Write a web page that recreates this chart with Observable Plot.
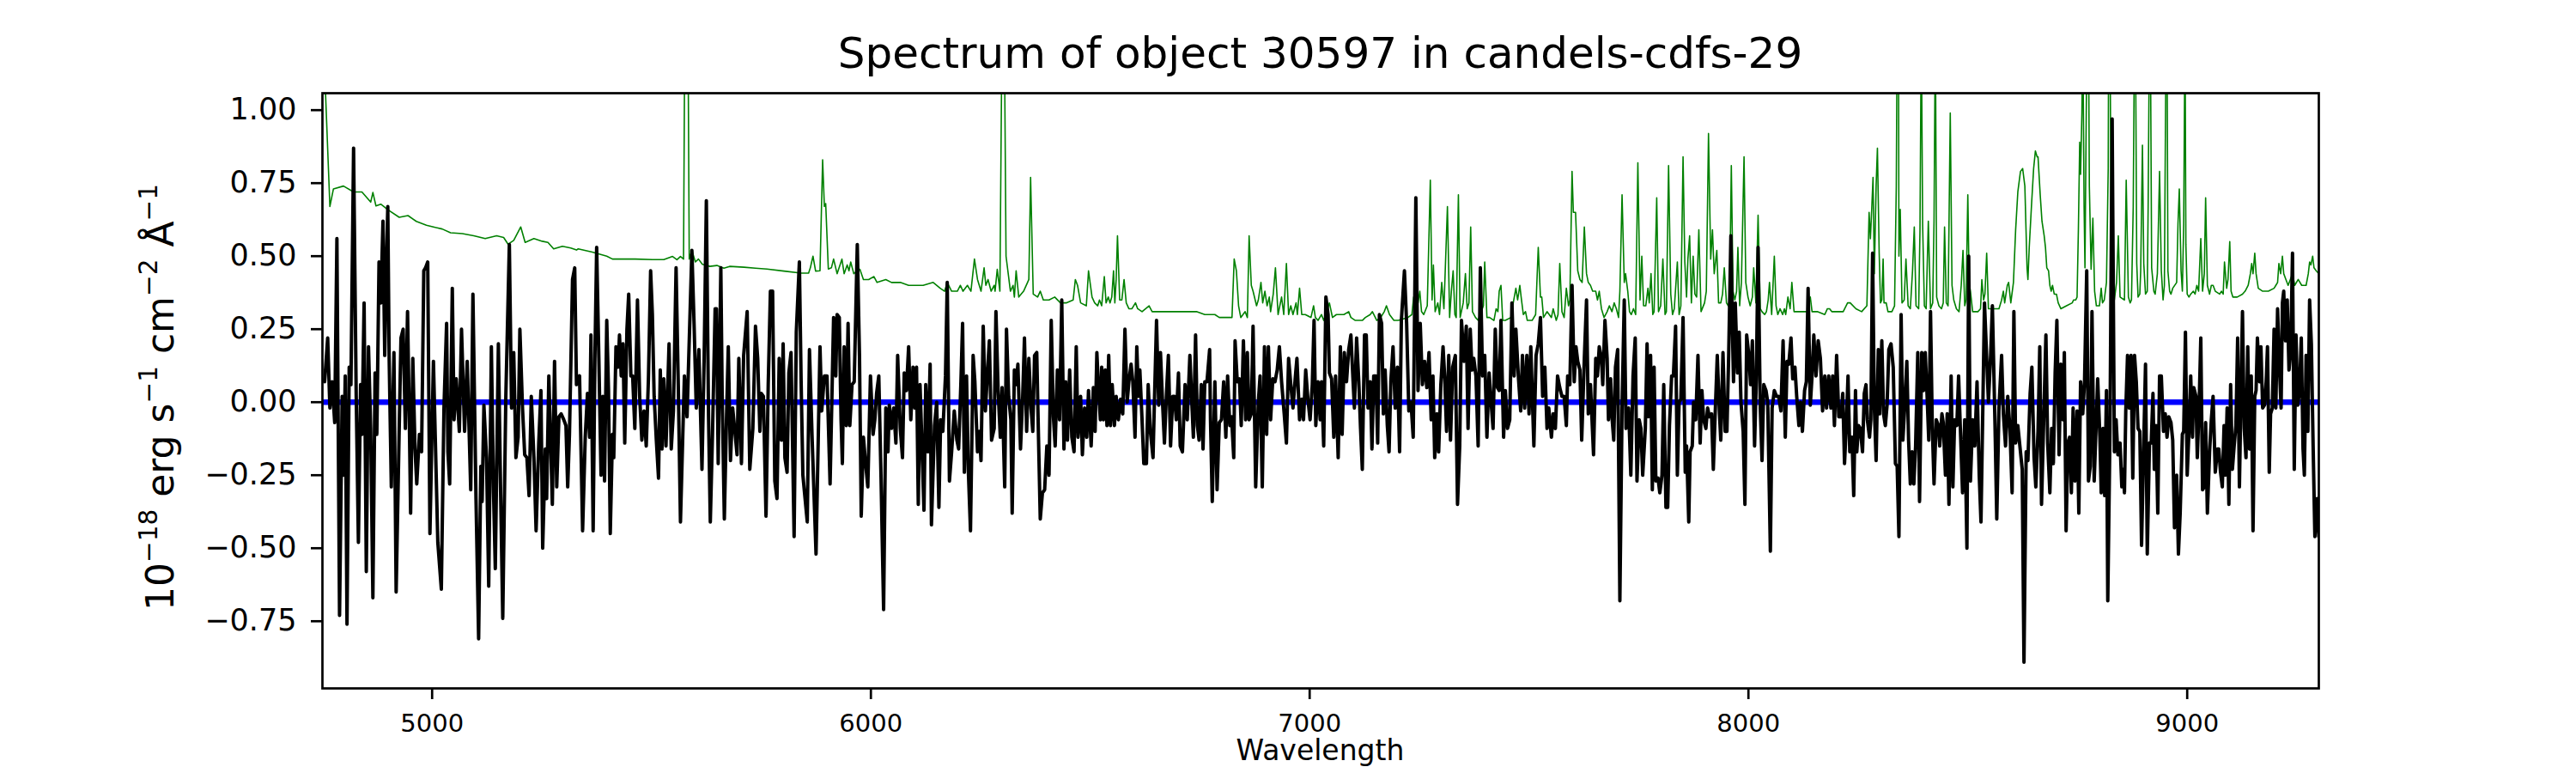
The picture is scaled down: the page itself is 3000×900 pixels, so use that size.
<!DOCTYPE html>
<html>
<head>
<meta charset="utf-8">
<script src="https://cdn.jsdelivr.net/npm/d3@7"></script>
<script src="https://cdn.jsdelivr.net/npm/@observablehq/plot@0.6"></script>
<style>
  html, body { margin: 0; padding: 0; background: #ffffff; }
  #chart { width: 3000px; height: 900px; }
</style>
</head>
<body>
<div id="chart"></div>
<script>
// ---------- texts & ticks ----------
const titleText = "Spectrum of object 30597 in candels-cdfs-29";
const xLabelText = "Wavelength";
const yLabelParts = [["10", false], ["−18", true], [" erg s", false], ["−1", true], [" cm", false], ["−2", true], [" Å", false], ["−1", true]];
const xTicks = [5000, 6000, 7000, 8000, 9000];
const yTicks = [-0.75, -0.5, -0.25, 0, 0.25, 0.5, 0.75, 1.0];
const xDomain = [4750, 9300];
const yDomain = [-0.98, 1.058];

// ---------- zero level (blue) ----------
const zeroLevel = [0];

// ---------- observed spectrum (black): [wavelength, flux] ----------
const spectrum = [
[4755,0.07],[4762,0.22],[4767,-0.02],[4772,0.07],[4778,-0.07],[4783,0.56],[4789,-0.73],[4795,0.02],[4798,-0.25],[4802,0.09],[4806,-0.76],[4811,0.12],[4815,0.06],[4821,0.87],[4827,0.02],[4832,-0.48],[4837,0.06],[4840,-0.11],[4845,0.34],[4850,-0.58],[4855,0.19],[4860,-0.09],[4865,-0.67],[4870,0.10],[4874,-0.11],[4879,0.48],[4883,0.34],[4888,0.62],[4892,0.16],[4896,0.49],[4899,0.67],[4902,0.16],[4907,-0.29],[4913,0.17],[4918,-0.65],[4925,-0.09],[4929,0.22],[4934,0.25],[4939,-0.09],[4944,0.31],[4948,-0.06],[4951,-0.38],[4956,0.15],[4961,-0.16],[4965,-0.28],[4971,-0.11],[4976,-0.17],[4981,0.45],[4985,0.46],[4990,0.48],[4995,-0.45],[5003,0.14],[5013,-0.48],[5021,-0.64],[5027,-0.02],[5033,0.27],[5036,-0.17],[5040,-0.28],[5046,0.39],[5050,-0.06],[5055,0.08],[5062,-0.10],[5067,0.25],[5074,-0.10],[5080,0.14],[5088,-0.30],[5093,0.37],[5100,-0.33],[5106,-0.81],[5111,-0.22],[5114,-0.34],[5118,-0.01],[5124,-0.19],[5129,-0.63],[5135,0.19],[5140,-0.31],[5144,-0.57],[5151,0.20],[5156,-0.30],[5161,-0.74],[5168,0.02],[5176,0.54],[5181,-0.02],[5186,0.17],[5191,-0.19],[5196,-0.12],[5200,0.25],[5206,-0.02],[5211,-0.18],[5216,-0.19],[5221,-0.32],[5226,0.02],[5232,-0.19],[5237,-0.44],[5243,-0.14],[5248,0.04],[5252,-0.50],[5258,-0.16],[5261,-0.33],[5266,0.09],[5274,-0.35],[5279,0.14],[5284,-0.29],[5289,-0.05],[5294,-0.04],[5300,-0.06],[5305,-0.08],[5309,-0.29],[5313,-0.11],[5320,0.42],[5325,0.46],[5329,0.06],[5336,0.09],
[5343,-0.44],[5349,-0.12],[5354,0.03],[5359,-0.12],[5362,0.23],[5367,-0.44],[5371,0.15],[5375,0.53],[5380,0.15],[5385,-0.25],[5389,0.02],[5393,-0.27],[5398,0.28],[5402,0.04],[5406,-0.45],[5411,-0.11],[5414,-0.19],[5419,0.19],[5424,0.12],[5427,0.23],[5431,0.09],[5435,0.20],[5439,-0.14],[5444,0.25],[5448,0.37],[5453,0.09],[5457,0.09],[5462,-0.09],[5468,0.35],[5473,0.02],[5478,-0.13],[5483,-0.03],[5488,-0.15],[5493,0.08],[5498,0.45],[5502,0.30],[5506,0.02],[5511,-0.13],[5516,-0.26],[5520,0.11],[5524,-0.16],[5528,0.08],[5533,-0.15],[5540,0.20],[5545,-0.16],[5550,-0.03],[5556,0.46],[5561,0.06],[5566,-0.41],[5571,-0.13],[5575,0.09],[5581,-0.05],[5586,0.21],[5592,0.52],[5597,0.27],[5602,-0.02],[5608,0.18],[5615,-0.23],[5620,0.15],[5625,0.69],[5630,-0.05],[5634,-0.41],[5639,-0.11],[5645,0.32],[5648,0.32],[5652,-0.21],[5658,0.46],[5661,0.03],[5666,-0.40],[5671,-0.05],[5675,0.19],[5680,-0.20],[5685,-0.02],[5690,-0.10],[5695,-0.18],[5699,0.15],[5705,-0.21],[5710,0.16],[5718,0.31],[5724,-0.23],[5731,-0.09],[5737,0.26],[5742,0.15],[5747,-0.10],[5750,0.03],[5755,0.02],[5761,-0.39],[5766,0.06],[5771,0.38],[5776,0.38],[5781,-0.27],[5786,-0.33],[5791,0.15],[5796,-0.13],[5800,0.20],[5804,-0.19],[5809,-0.24],[5813,0.10],[5818,0.17],[5825,-0.46],[5830,0.24],[5837,0.48],[5841,0.07],[5845,-0.25],[5855,-0.41],[5860,0.18],[5866,-0.12],[5875,-0.52],[5884,0.19],[5888,-0.03],[5894,0.09],[5900,0.09],[5907,-0.28],
[5915,0.29],[5920,0.09],[5923,0.30],[5928,0.29],[5932,-0.06],[5935,-0.21],[5939,0.19],[5944,-0.08],[5948,0.27],[5952,-0.08],[5957,0.06],[5962,0.07],[5969,0.54],[5974,0.16],[5978,-0.39],[5983,-0.12],[5988,-0.21],[5993,-0.29],[5999,0.09],[6005,-0.11],[6009,-0.06],[6013,0.03],[6018,0.09],[6023,-0.25],[6029,-0.71],[6034,-0.02],[6039,-0.17],[6042,-0.01],[6047,-0.09],[6052,-0.02],[6057,-0.14],[6061,0.16],[6067,-0.09],[6072,-0.19],[6076,0.10],[6081,0.04],[6086,0.19],[6091,-0.06],[6096,0.12],[6100,-0.02],[6104,0.12],[6108,-0.35],[6112,0.06],[6116,-0.13],[6121,-0.37],[6125,0.06],[6130,-0.17],[6135,0.13],[6138,-0.42],[6145,-0.08],[6150,0.00],[6155,-0.36],[6159,-0.06],[6164,-0.10],[6170,0.09],[6174,0.41],[6179,-0.27],[6184,-0.17],[6190,-0.03],[6196,-0.13],[6200,-0.16],[6205,0.06],[6209,0.27],[6213,-0.24],[6218,0.09],[6222,-0.23],[6227,-0.44],[6233,0.16],[6237,0.07],[6243,-0.17],[6247,-0.10],[6251,-0.20],[6256,0.26],[6261,-0.03],[6266,0.11],[6270,0.21],[6275,-0.13],[6281,-0.09],[6285,0.31],[6290,0.04],[6295,-0.12],[6299,0.05],[6305,-0.29],[6309,0.25],[6314,0.02],[6319,-0.06],[6322,-0.38],[6327,0.11],[6331,0.06],[6335,0.13],[6341,-0.16],[6346,0.02],[6350,0.22],[6355,-0.10],[6360,0.15],[6365,-0.02],[6369,-0.10],[6373,0.16],[6378,0.17],[6382,-0.12],[6386,-0.40],[6391,-0.31],[6396,-0.30],[6401,-0.15],[6406,-0.25],[6411,0.28],[6416,-0.05],[6420,-0.15],[6425,0.11],[6430,-0.06],[6435,0.35],[6440,-0.16],[6444,0.07],[6448,-0.13],[6453,0.11],[6458,-0.12],[6463,-0.17],[6468,0.19],[6472,-0.12],[6478,0.02],[6482,-0.18],[6487,-0.02],[6492,-0.12],[6496,0.04],
[6502,-0.15],[6507,0.05],[6511,-0.10],[6515,0.17],[6519,0.04],[6523,-0.06],[6526,0.12],[6530,-0.06],[6534,0.11],[6538,-0.08],[6542,0.16],[6546,-0.08],[6550,0.06],[6555,-0.08],[6559,0.02],[6564,-0.06],[6569,0.01],[6574,-0.04],[6579,0.25],[6584,0.00],[6588,0.07],[6593,0.13],[6597,0.07],[6602,-0.12],[6606,0.19],[6610,0.02],[6613,0.11],[6618,-0.06],[6622,-0.21],[6628,-0.21],[6632,0.06],[6637,-0.10],[6643,-0.19],[6646,-0.01],[6651,0.28],[6656,-0.01],[6660,0.17],[6665,-0.01],[6669,-0.14],[6674,0.04],[6678,0.16],[6683,-0.15],[6688,0.02],[6692,0.02],[6696,-0.06],[6701,0.10],[6705,-0.15],[6710,-0.17],[6716,0.06],[6721,-0.06],[6727,0.16],[6732,-0.02],[6735,-0.12],[6740,0.23],[6744,-0.08],[6748,-0.13],[6753,0.06],[6757,-0.16],[6761,0.07],[6766,0.07],[6772,0.18],[6774,-0.06],[6778,-0.34],[6784,0.07],[6789,-0.30],[6794,-0.07],[6799,-0.06],[6804,0.07],[6809,-0.12],[6813,0.09],[6818,-0.08],[6822,-0.05],[6827,-0.19],[6830,0.21],[6835,0.07],[6840,0.08],[6844,-0.08],[6849,0.21],[6854,-0.06],[6858,0.17],[6862,-0.06],[6867,-0.04],[6871,0.26],[6877,-0.29],[6883,0.00],[6887,0.09],[6892,-0.29],[6897,0.19],[6902,-0.11],[6906,0.19],[6911,-0.06],[6916,0.08],[6921,0.07],[6926,0.11],[6931,0.19],[6936,0.07],[6942,-0.04],[6947,-0.14],[6952,0.15],[6957,0.06],[6962,-0.02],[6967,0.08],[6971,0.15],[6977,-0.06],[6982,0.01],[6986,-0.06],[6991,0.11],[6996,0.01],[7001,-0.06],[7006,0.06],[7010,0.28],[7014,-0.08],[7019,0.07],[7024,-0.06],[7027,0.07],[7032,-0.15],[7037,0.36],[7042,0.30],[7045,0.10],[7050,0.08],[7055,-0.12],[7059,0.09],
[7065,-0.19],[7070,0.19],[7074,-0.11],[7079,0.17],[7084,0.07],[7089,0.18],[7094,0.23],[7099,0.07],[7102,-0.02],[7107,0.22],[7112,0.07],[7116,-0.09],[7120,-0.23],[7125,0.23],[7129,0.23],[7133,-0.02],[7138,0.07],[7142,-0.16],[7146,0.09],[7151,0.09],[7155,-0.14],[7159,0.30],[7164,0.27],[7168,-0.04],[7172,0.11],[7177,-0.08],[7181,-0.17],[7185,0.07],[7190,0.19],[7195,-0.02],[7200,0.12],[7205,-0.17],[7209,0.28],[7216,0.45],[7221,0.27],[7226,-0.03],[7231,0.00],[7236,-0.12],[7242,0.70],[7247,0.04],[7252,0.27],[7257,0.06],[7262,0.14],[7267,0.05],[7272,0.17],[7277,-0.06],[7281,0.09],[7285,-0.19],[7290,-0.04],[7294,-0.17],[7299,0.06],[7304,0.19],[7308,0.08],[7312,-0.10],[7317,0.16],[7321,-0.13],[7326,0.12],[7332,0.16],[7337,-0.35],[7342,-0.15],[7346,0.28],[7352,0.14],[7357,0.26],[7361,-0.09],[7366,0.25],[7370,0.11],[7374,0.15],[7379,0.09],[7384,-0.15],[7389,0.46],[7394,0.09],[7399,0.16],[7404,-0.12],[7409,0.10],[7414,-0.01],[7418,-0.09],[7423,0.25],[7428,0.05],[7432,0.04],[7436,0.28],[7442,-0.12],[7446,0.04],[7451,-0.09],[7456,-0.06],[7461,0.34],[7466,0.09],[7470,0.25],[7476,0.08],[7481,-0.03],[7485,0.16],[7490,-0.02],[7495,0.16],[7500,-0.04],[7504,0.19],[7511,-0.15],[7516,0.16],[7521,0.20],[7526,0.29],[7531,0.02],[7536,0.12],[7541,-0.09],[7545,-0.02],[7551,-0.12],[7555,-0.04],[7560,-0.09],[7565,0.09],[7570,0.05],[7575,0.02],[7580,0.02],[7585,-0.08],[7588,0.09],[7593,0.06],[7598,0.40],[7603,0.07],[7607,0.19],[7611,0.14],[7616,0.11],[7620,-0.13],[7626,0.15],[7631,0.35],[7635,-0.04],[7640,0.06],
[7647,-0.18],[7652,0.15],[7656,0.09],[7660,0.19],[7665,0.15],[7668,0.06],[7673,0.28],[7678,0.15],[7681,-0.06],[7686,0.08],[7689,-0.05],[7693,-0.13],[7697,0.12],[7702,0.18],[7707,-0.68],[7712,-0.02],[7717,0.35],[7721,-0.09],[7727,-0.02],[7732,-0.25],[7737,0.09],[7742,0.22],[7746,-0.27],[7751,-0.06],[7755,-0.09],[7759,-0.25],[7765,-0.09],[7769,0.20],[7772,-0.05],[7777,0.16],[7781,-0.30],[7785,0.12],[7789,-0.27],[7794,-0.26],[7798,-0.31],[7803,-0.25],[7807,0.06],[7812,-0.36],[7816,-0.36],[7820,-0.08],[7825,0.09],[7829,0.09],[7834,0.26],[7838,-0.25],[7842,0.00],[7846,0.01],[7851,0.29],[7856,-0.24],[7859,-0.15],[7864,-0.41],[7867,-0.17],[7872,-0.15],[7875,0.00],[7880,-0.06],[7885,0.16],[7890,-0.14],[7894,0.04],[7898,-0.06],[7903,-0.09],[7907,-0.02],[7911,-0.05],[7916,-0.04],[7920,-0.23],[7924,-0.05],[7929,0.16],[7934,-0.04],[7937,-0.13],[7942,0.17],[7947,-0.10],[7951,-0.10],[7955,0.16],[7960,0.57],[7963,0.29],[7966,0.07],[7970,0.34],[7975,0.10],[7979,0.24],[7983,0.00],[7988,-0.10],[7992,-0.35],[7996,0.23],[8001,0.16],[8005,0.06],[8009,0.21],[8014,-0.15],[8018,0.08],[8022,0.53],[8027,-0.02],[8031,-0.20],[8035,0.06],[8040,0.04],[8044,0.00],[8050,-0.51],[8054,-0.02],[8059,0.04],[8064,0.02],[8069,0.02],[8074,-0.03],[8079,0.21],[8084,-0.12],[8088,0.14],[8092,0.13],[8097,0.22],[8101,0.08],[8106,0.12],[8110,0.02],[8115,-0.08],[8119,0.00],[8123,-0.10],[8128,0.04],[8132,0.07],[8136,0.39],[8141,-0.01],[8145,0.09],[8149,0.23],[8154,0.09],[8159,0.21],[8164,0.15],[8169,-0.03],[8174,0.09],[8178,-0.02],[8183,0.09],[8188,-0.02],[8192,0.09],[8196,-0.08],[8201,0.16],[8206,-0.05],[8211,-0.05],[8215,0.03],
[8219,-0.21],[8223,-0.08],[8227,0.09],[8231,-0.17],[8236,-0.12],[8240,-0.32],[8244,0.04],[8247,-0.17],[8251,-0.08],[8255,-0.09],[8260,-0.17],[8264,0.03],[8268,0.06],[8271,-0.06],[8276,-0.12],[8279,-0.06],[8283,0.51],[8287,-0.02],[8291,-0.20],[8296,0.18],[8299,-0.04],[8304,0.21],[8308,-0.04],[8312,-0.08],[8316,-0.01],[8320,0.18],[8325,0.20],[8330,0.12],[8335,-0.21],[8339,-0.22],[8343,-0.46],[8348,0.30],[8352,-0.13],[8356,-0.02],[8361,0.14],[8365,-0.13],[8369,-0.28],[8373,-0.17],[8377,-0.28],[8381,-0.15],[8386,0.17],[8390,-0.34],[8395,0.17],[8399,0.04],[8403,0.17],[8407,0.03],[8411,-0.13],[8415,0.31],[8419,-0.08],[8423,-0.28],[8428,-0.06],[8433,-0.08],[8436,-0.15],[8441,-0.04],[8444,-0.07],[8449,-0.25],[8453,-0.04],[8457,-0.35],[8462,0.09],[8466,-0.29],[8470,-0.06],[8475,-0.08],[8479,0.09],[8483,-0.09],[8488,-0.31],[8493,-0.06],[8498,-0.50],[8502,0.50],[8506,-0.27],[8511,-0.06],[8516,-0.15],[8521,0.07],[8526,-0.25],[8530,-0.41],[8534,-0.04],[8538,0.34],[8542,0.19],[8547,0.00],[8552,0.16],[8556,0.33],[8562,-0.08],[8566,-0.40],[8571,-0.02],[8577,0.16],[8581,-0.04],[8586,-0.15],[8591,0.02],[8596,-0.09],[8601,-0.31],[8605,0.31],[8609,-0.14],[8614,-0.08],[8618,-0.14],[8624,-0.23],[8628,-0.89],[8633,-0.17],[8637,-0.20],[8642,0.03],[8646,0.12],[8651,-0.19],[8655,-0.29],[8660,-0.10],[8664,0.19],[8668,-0.35],[8673,-0.06],[8678,0.23],[8682,-0.14],[8687,-0.31],[8691,-0.09],[8695,-0.21],[8699,0.10],[8703,0.28],[8708,-0.18],[8712,0.13],[8717,-0.06],[8720,0.17],[8724,-0.44],[8728,-0.14],[8732,-0.12],[8736,-0.31],[8740,-0.02],[8744,-0.27],[8749,-0.03],[8753,-0.38],[8757,0.07],[8762,-0.04],[8766,0.07],[8771,0.45],[8775,-0.27],[8779,-0.22],[8783,0.31],[8788,-0.27],[8792,-0.10],[8796,0.08],[8801,-0.12],[8804,-0.31],
[8808,-0.09],[8812,-0.32],[8816,0.04],[8819,-0.68],[8824,-0.10],[8829,0.97],[8834,-0.17],[8838,-0.06],[8842,-0.18],[8847,-0.14],[8851,-0.29],[8854,-0.23],[8857,-0.31],[8860,-0.03],[8864,0.16],[8868,-0.02],[8872,0.16],[8876,-0.26],[8880,0.16],[8884,0.07],[8888,-0.09],[8892,-0.10],[8896,-0.49],[8901,-0.14],[8905,0.13],[8909,-0.52],[8914,-0.14],[8918,-0.14],[8922,0.03],[8925,-0.23],[8929,-0.08],[8933,-0.38],[8937,0.09],[8941,0.09],[8946,-0.10],[8950,-0.04],[8954,-0.12],[8958,-0.05],[8963,-0.07],[8967,-0.13],[8971,-0.43],[8976,-0.25],[8980,-0.52],[8984,-0.38],[8989,-0.11],[8992,-0.10],[8996,0.24],[9000,-0.25],[9004,-0.10],[9008,0.09],[9012,-0.12],[9015,0.05],[9020,0.02],[9023,-0.19],[9027,-0.02],[9031,0.22],[9035,-0.30],[9039,-0.29],[9042,-0.07],[9046,-0.38],[9051,-0.17],[9055,-0.06],[9059,0.02],[9064,-0.24],[9069,-0.16],[9072,-0.16],[9076,-0.24],[9080,-0.29],[9084,-0.08],[9087,-0.25],[9091,-0.02],[9095,-0.35],[9099,0.06],[9103,-0.23],[9107,-0.15],[9111,-0.08],[9115,0.22],[9119,-0.29],[9123,0.06],[9126,0.31],[9130,-0.09],[9134,-0.19],[9138,0.19],[9142,-0.16],[9146,0.09],[9150,-0.44],[9154,0.02],[9157,0.04],[9160,0.22],[9165,0.07],[9168,0.19],[9172,-0.02],[9176,-0.01],[9180,0.07],[9183,0.19],[9187,-0.24],[9190,-0.04],[9194,-0.02],[9198,0.25],[9202,-0.02],[9206,0.32],[9210,0.13],[9214,-0.02],[9217,0.34],[9220,0.38],[9224,0.21],[9228,0.35],[9232,0.11],[9236,0.18],[9240,0.51],[9244,-0.23],[9248,0.23],[9252,-0.01],[9256,0.04],[9260,0.22],[9264,-0.16],[9267,-0.25],[9271,0.16],[9275,-0.10],[9279,0.35],[9283,0.20],[9287,-0.15],[9291,-0.46],[9296,-0.33],[9300,-0.46]
];

// ---------- noise / sky spectrum (green): [wavelength, flux] ----------
const noise = [
[4750,1.3],[4756,1.1],[4767,0.67],[4775,0.73],[4798,0.74],[4821,0.72],[4840,0.72],[4860,0.685],[4865,0.718],[4872,0.672],[4883,0.678],[4899,0.659],[4925,0.633],[4945,0.639],[4964,0.619],[4987,0.606],[5003,0.600],[5023,0.593],[5042,0.580],[5069,0.577],[5095,0.570],[5121,0.560],[5147,0.570],[5163,0.564],[5173,0.541],[5186,0.554],[5202,0.600],[5212,0.547],[5232,0.560],[5251,0.551],[5264,0.547],[5277,0.525],[5297,0.534],[5316,0.528],[5329,0.521],
[5333,0.525],[5365,0.514],[5398,0.50],[5411,0.49],[5463,0.49],[5502,0.488],[5528,0.488],[5548,0.499],[5558,0.488],[5566,0.499],[5573,0.49],[5577,1.6],[5582,1.6],[5586,0.49],[5592,0.52],[5600,0.48],[5607,0.49],[5616,0.472],[5633,0.465],[5649,0.468],[5665,0.459],[5678,0.465],[5711,0.462],[5737,0.459],[5763,0.456],[5802,0.449],[5841,0.442],[5858,0.442],[5862,0.46],[5868,0.50],[5874,0.449],[5884,0.45],[5890,0.83],[5894,0.67],[5897,0.68],[5903,0.456],[5910,0.46],[5915,0.49],
[5923,0.44],[5934,0.49],[5939,0.44],[5946,0.47],[5950,0.45],[5954,0.48],[5961,0.44],[5969,0.45],[5975,0.455],[5983,0.42],[5995,0.42],[6007,0.43],[6014,0.41],[6034,0.42],[6047,0.41],[6067,0.41],[6086,0.40],[6099,0.40],[6119,0.40],[6142,0.41],[6158,0.39],[6168,0.38],[6174,0.41],[6184,0.38],[6197,0.38],[6204,0.40],[6210,0.38],[6220,0.40],[6228,0.38],[6236,0.49],[6243,0.42],[6251,0.38],[6258,0.46],[6262,0.40],[6267,0.42],[6274,0.38],[6281,0.40],[6283,0.38],[6288,0.455],[6294,0.38],[6300,1.5],[6303,1.5],[6308,0.50],[6318,0.38],[6324,0.40],[6327,0.36],[6331,0.45],[6337,0.36],[6348,0.38],[6357,0.41],[6360,0.42],[6364,0.77],[6370,0.37],[6380,0.36],[6386,0.38],[6393,0.35],[6406,0.35],[6419,0.36],[6432,0.34],[6445,0.34],[6461,0.35],[6466,0.42],[6471,0.40],[6478,0.34],[6491,0.33],[6496,0.45],
[6504,0.36],[6510,0.34],[6517,0.33],[6521,0.35],[6526,0.33],[6532,0.43],[6536,0.34],[6541,0.36],[6545,0.34],[6549,0.36],[6553,0.45],[6556,0.34],[6559,0.42],[6562,0.57],[6567,0.35],[6572,0.35],[6577,0.42],[6582,0.34],[6588,0.32],[6595,0.32],[6603,0.34],[6608,0.32],[6618,0.31],[6634,0.33],[6641,0.31],[6657,0.31],[6677,0.31],[6696,0.31],[6716,0.31],[6742,0.31],[6761,0.30],[6784,0.30],[6794,0.29],[6823,0.29],[6828,0.49],[6833,0.45],[6838,0.33],[6843,0.29],[6853,0.31],[6858,0.29],[6862,0.57],[6867,0.40],[6871,0.38],[6879,0.33],[6883,0.35],[6889,0.41],[6893,0.34],[6898,0.38],[6903,0.33],[6908,0.36],[6911,0.31],[6917,0.37],[6922,0.46],[6928,0.30],[6936,0.36],[6941,0.30],[6947,0.475],[6952,0.30],[6957,0.33],[6962,0.30],[6969,0.34],[6972,0.30],[6977,0.39],[6982,0.30],[6990,0.30],[7003,0.29],[7009,0.33],[7013,0.29],[7019,0.28],[7027,0.30],[7032,0.28],[7039,0.31],[7045,0.34],[7052,0.29],[7061,0.30],
[7065,0.30],[7078,0.30],[7089,0.31],[7094,0.29],[7104,0.28],[7120,0.28],[7127,0.29],[7138,0.30],[7143,0.31],[7153,0.28],[7162,0.29],[7170,0.31],[7175,0.33],[7182,0.30],[7192,0.28],[7202,0.28],[7224,0.29],[7233,0.30],[7237,0.36],[7247,0.34],[7251,0.38],[7255,0.31],[7260,0.30],[7268,0.33],[7275,0.76],[7279,0.35],[7282,0.47],[7286,0.31],[7292,0.34],[7296,0.30],[7301,0.41],[7306,0.32],[7314,0.67],[7319,0.29],[7323,0.38],[7327,0.45],[7331,0.30],[7334,0.29],[7339,0.71],[7343,0.29],[7350,0.34],[7355,0.44],[7359,0.32],[7363,0.34],[7367,0.60],[7371,0.31],[7378,0.29],[7384,0.28],[7391,0.31],[7396,0.33],[7399,0.48],[7404,0.29],[7410,0.29],[7420,0.28],[7425,0.32],[7429,0.31],[7432,0.38],[7436,0.40],[7440,0.28],[7446,0.28],[7459,0.29],[7464,0.34],[7470,0.39],[7474,0.35],[7479,0.40],[7482,0.36],[7487,0.30],[7492,0.31],[7496,0.28],[7507,0.28],[7515,0.30],[7521,0.53],[7526,0.36],[7529,0.36],[7533,0.29],[7541,0.31],[7551,0.29],[7555,0.32],[7562,0.28],[7566,0.30],[7570,0.475],[7575,0.31],[7580,0.29],[7585,0.39],[7590,0.33],[7593,0.35],[7598,0.79],[7601,0.65],[7606,0.65],[7611,0.45],[7616,0.42],[7621,0.41],[7626,0.60],[7631,0.44],[7635,0.41],[7640,0.40],[7645,0.38],
[7652,0.38],[7656,0.35],[7660,0.38],[7665,0.32],[7671,0.29],[7678,0.31],[7683,0.33],[7689,0.31],[7694,0.34],[7699,0.32],[7704,0.29],[7707,0.38],[7712,0.71],[7717,0.41],[7720,0.44],[7725,0.38],[7729,0.31],[7733,0.30],[7738,0.32],[7743,0.30],[7748,0.82],[7753,0.35],[7757,0.50],[7761,0.33],[7766,0.33],[7771,0.39],[7774,0.34],[7778,0.44],[7782,0.30],[7785,0.31],[7791,0.70],[7795,0.31],[7800,0.33],[7805,0.49],[7810,0.30],[7813,0.31],[7818,0.81],[7823,0.37],[7827,0.30],[7831,0.32],[7838,0.48],[7842,0.30],[7846,0.33],[7851,0.84],[7855,0.48],[7859,0.36],[7862,0.49],[7866,0.57],[7870,0.34],[7874,0.50],[7878,0.37],[7882,0.36],[7887,0.59],[7892,0.31],[7900,0.34],[7904,0.38],[7909,0.92],[7914,0.49],[7918,0.59],[7922,0.44],[7928,0.52],[7932,0.34],[7937,0.34],[7941,0.37],[7945,0.46],[7950,0.34],[7954,0.33],[7957,0.35],[7961,0.81],[7965,0.38],[7969,0.35],[7973,0.38],[7976,0.53],[7980,0.33],[7984,0.41],[7990,0.84],[7994,0.41],[7999,0.36],[8004,0.33],[8009,0.36],[8012,0.46],[8017,0.34],[8022,0.64],[8027,0.32],[8031,0.31],[8037,0.30],[8041,0.31],[8045,0.35],[8048,0.41],[8053,0.30],[8059,0.50],[8063,0.33],[8067,0.30],[8072,0.32],[8078,0.30],[8082,0.32],[8085,0.30],[8090,0.36],[8095,0.32],[8099,0.41],[8104,0.31],[8113,0.31],[8128,0.31],[8134,0.31],[8141,0.36],[8145,0.31],[8157,0.31],[8174,0.30],[8180,0.32],[8185,0.32],[8190,0.31],[8203,0.31],[8216,0.31],
[8226,0.34],[8232,0.34],[8245,0.32],[8258,0.31],[8270,0.33],[8275,0.65],[8278,0.56],[8281,0.66],[8284,0.77],[8287,0.44],[8291,0.74],[8294,0.87],[8298,0.51],[8301,0.34],[8304,0.35],[8307,0.49],[8309,0.34],[8314,0.34],[8318,0.31],[8327,0.31],[8333,0.33],[8337,0.74],[8339,1.3],[8342,1.3],[8343,0.50],[8346,0.66],[8350,0.34],[8355,0.35],[8359,0.49],[8364,0.33],[8369,0.32],[8374,0.45],[8378,0.60],[8382,0.33],[8388,0.32],[8391,0.59],[8394,1.3],[8397,0.61],[8401,0.33],[8405,0.32],[8410,0.62],[8415,0.32],[8420,0.34],[8423,0.62],[8426,1.3],[8429,0.36],[8434,0.33],[8440,0.32],[8444,0.34],[8447,0.60],[8451,0.34],[8455,0.33],[8460,0.99],[8464,0.40],[8468,0.35],[8474,0.32],[8480,0.31],[8485,0.40],[8489,0.52],[8493,0.33],[8496,0.35],[8500,0.71],[8503,0.41],[8506,0.38],[8511,0.31],[8523,0.31],[8529,0.32],[8532,0.42],[8536,0.35],[8539,0.37],[8543,0.51],[8547,0.32],[8558,0.32],[8571,0.32],[8577,0.35],[8581,0.38],[8584,0.34],[8590,0.40],[8593,0.41],[8598,0.34],[8604,0.41],[8609,0.59],[8614,0.72],[8620,0.79],[8625,0.80],[8630,0.74],[8635,0.46],[8637,0.42],[8640,0.53],[8645,0.67],[8650,0.80],[8654,0.86],[8658,0.84],[8660,0.84],[8665,0.71],[8669,0.62],[8674,0.57],[8677,0.53],[8680,0.46],[8684,0.45],[8687,0.40],[8690,0.38],[8693,0.40],[8697,0.37],[8702,0.37],[8706,0.34],[8712,0.32],[8725,0.33],[8738,0.34],[8741,0.35],[8746,0.35],[8749,0.36],[8752,0.59],[8755,0.89],[8757,0.78],[8760,0.99],[8762,1.3],[8765,0.67],[8767,0.46],[8770,1.0],[8772,1.3],[8775,1.3],[8777,0.74],[8781,0.455],[8785,0.63],[8789,0.38],[8793,0.33],[8800,0.33],
[8804,0.39],[8807,0.34],[8811,0.35],[8816,0.41],[8820,0.80],[8821,1.3],[8824,1.3],[8827,0.46],[8830,0.36],[8834,0.35],[8839,0.41],[8843,0.57],[8847,0.36],[8857,0.35],[8861,0.76],[8866,0.36],[8870,0.34],[8873,0.35],[8877,0.67],[8880,1.3],[8882,1.3],[8885,0.475],[8888,0.36],[8892,0.37],[8894,0.45],[8898,0.88],[8901,0.475],[8905,0.37],[8909,0.38],[8911,0.67],[8914,1.3],[8916,1.3],[8919,0.46],[8924,0.38],[8927,0.37],[8932,0.44],[8937,0.79],[8941,0.45],[8945,0.35],[8948,0.40],[8952,1.3],[8954,1.3],[8956,0.45],[8960,0.38],[8963,0.37],[8967,0.39],[8976,0.41],[8979,0.61],[8982,0.73],[8986,0.45],[8989,0.38],[8992,0.61],[8995,1.3],[8997,0.54],[9000,0.37],[9004,0.36],[9008,0.37],[9014,0.38],[9018,0.37],[9022,0.40],[9026,0.38],[9031,0.56],[9035,0.38],[9039,0.44],[9042,0.70],[9046,0.40],[9051,0.37],[9055,0.40],[9059,0.40],[9064,0.38],[9074,0.37],[9078,0.38],[9082,0.37],[9085,0.48],[9090,0.39],[9093,0.42],[9097,0.55],[9100,0.38],[9104,0.36],[9114,0.36],[9126,0.37],[9132,0.38],[9139,0.40],[9144,0.44],[9147,0.475],[9150,0.44],[9154,0.51],[9157,0.44],[9162,0.39],[9172,0.38],[9185,0.38],[9198,0.39],[9202,0.40],[9206,0.41],[9209,0.475],[9213,0.44],[9217,0.50],[9220,0.44],[9225,0.42],[9230,0.40],[9235,0.42],[9240,0.44],[9245,0.40],[9253,0.42],[9261,0.40],[9271,0.40],[9276,0.44],[9279,0.48],[9282,0.47],[9286,0.50],[9289,0.46],[9294,0.45],[9300,0.44]
];

// ---------- layout ----------
const W = 3000, H = 900;
const mL = 375, mR = 300, mT = 108, mB = 99;
const FONT = "'DejaVu Sans', 'Liberation Sans', sans-serif";

const chart = Plot.plot({
  width: W,
  height: H,
  marginLeft: mL,
  marginRight: mR,
  marginTop: mT,
  marginBottom: mB,
  style: { fontFamily: FONT, background: "#ffffff", color: "#000000" },
  x: { domain: xDomain },
  y: { domain: yDomain },
  marks: [
    Plot.line(noise, { x: d => d[0], y: d => d[1], stroke: "#008000", strokeWidth: 1.6, clip: true }),
    Plot.ruleY(zeroLevel, { stroke: "#0000ff", strokeWidth: 6.5 }),
    Plot.line(spectrum, { x: d => d[0], y: d => d[1], stroke: "#000000", strokeWidth: 4.0, clip: true }),
    Plot.frame({ stroke: "#000000", strokeWidth: 2.7 }),
    Plot.axisX({ ticks: xTicks, tickSize: 13, tickPadding: 17, fontSize: 29, strokeWidth: 2.7, tickFormat: d => String(d), label: null }),
    Plot.axisY({ ticks: yTicks, tickSize: 13, tickPadding: 17, fontSize: 35, strokeWidth: 2.7, tickFormat: d3.format(".2f"), label: null })
  ]
});

document.getElementById("chart").appendChild(chart);

// ---------- title and axis labels as real SVG text ----------
const svg = d3.select(chart);
const cx = mL + (W - mL - mR) / 2;
const cy = mT + (H - mT - mB) / 2;

svg.append("text")
  .attr("x", cx).attr("y", 79)
  .attr("text-anchor", "middle")
  .attr("font-family", FONT).attr("font-size", 50).attr("fill", "#000")
  .text(titleText);

svg.append("text")
  .attr("x", cx).attr("y", 885)
  .attr("text-anchor", "middle")
  .attr("font-family", FONT).attr("font-size", 33).attr("fill", "#000")
  .text(xLabelText);

const yl = svg.append("text")
  .attr("transform", `translate(202,${cy + 8}) rotate(-90)`)
  .attr("text-anchor", "middle")
  .attr("font-family", FONT).attr("font-size", 44).attr("fill", "#000")
  .attr("xml:space", "preserve")
  .style("white-space", "pre");
let raised = false;
for (const [txt, sup] of yLabelParts) {
  const t = yl.append("tspan").text(txt);
  if (sup && !raised) { t.attr("dy", -19).attr("font-size", 29.5); raised = true; }
  else if (sup) { t.attr("font-size", 29.5); }
  else if (!sup && raised) { t.attr("dy", 19); raised = false; }
}
</script>
</body>
</html>
